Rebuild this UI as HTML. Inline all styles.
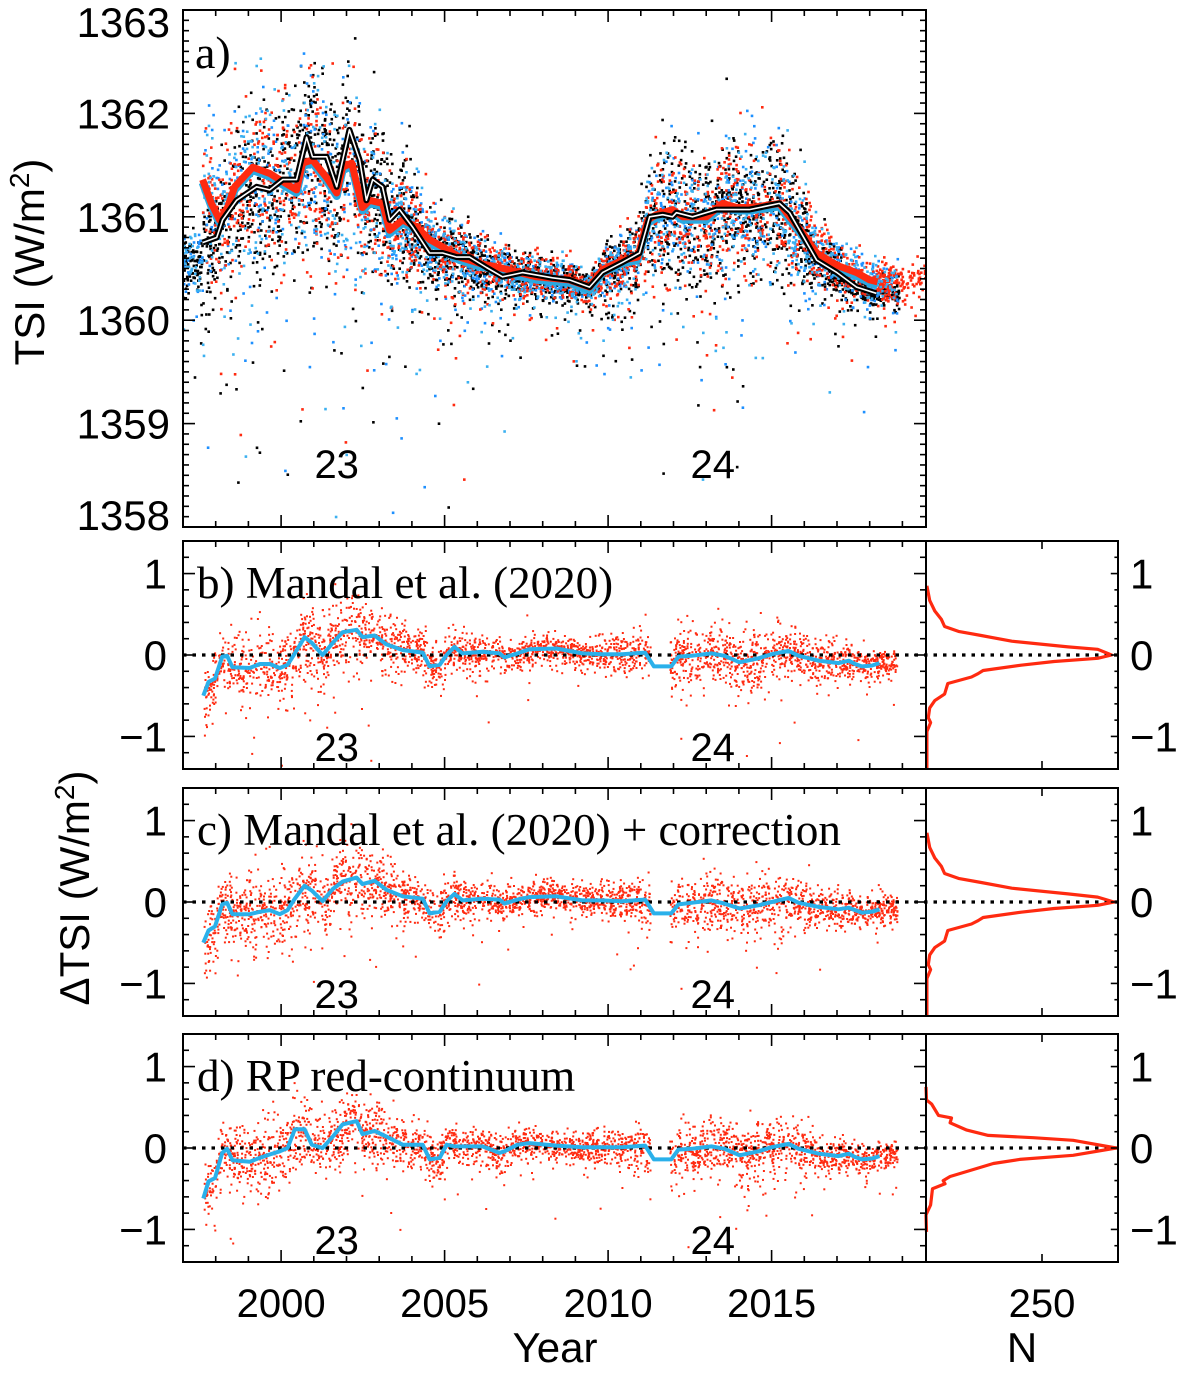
<!DOCTYPE html>
<html><head><meta charset="utf-8"><style>
html,body{margin:0;padding:0;background:#fff;}
svg{display:block;}
text{font-family:"Liberation Sans",sans-serif;fill:#000;}
.serif{font-family:"Liberation Serif",serif;}
</style></head>
<body>
<svg id="fig" width="1200" height="1378" viewBox="0 0 1200 1378" xmlns="http://www.w3.org/2000/svg">
  <g id="layer-scatter"></g>
  <g id="layer-lines"></g>
  <g id="layer-axes"></g>
  <text transform="translate(44,262) rotate(-90)" text-anchor="middle" font-size="42">TSI (W/m<tspan dy="-15" font-size="28">2</tspan><tspan dy="15">)</tspan></text>
  <text transform="translate(89,888) rotate(-90)" text-anchor="middle" font-size="42">ΔTSI (W/m<tspan dy="-15" font-size="28">2</tspan><tspan dy="15">)</tspan></text>
  <text x="555" y="1362" text-anchor="middle" font-size="42">Year</text>
  <text x="1022" y="1362" text-anchor="middle" font-size="42">N</text>
</svg>
<script>
// ---------- Panel a data ----------
const obsYears = [1997.60,1997.87,1998.12,1998.36,1998.58,1999.13,1999.65,1999.95,2000.47,2000.66,2000.96,2001.39,2001.70,2001.88,2002.16,2002.49,2002.71,2003.10,2003.32,2003.72,2004.14,2004.54,2004.94,2005.46,2006.07,2006.68,2007.29,2007.81,2008.82,2009.43,2009.83,2010.44,2010.90,2011.21,2011.48,2011.97,2012.28,2012.58,2013.01,2013.50,2013.93,2014.32,2014.85,2015.24,2015.55,2015.96,2016.38,2017.00,2017.60,2018.00,2018.24];
const obsTSI = [1361.36,1361.13,1360.97,1361.09,1361.29,1361.48,1361.42,1361.36,1361.26,1361.52,1361.55,1361.38,1361.23,1361.48,1361.52,1361.09,1361.16,1361.13,1360.87,1360.97,1360.90,1360.78,1360.71,1360.61,1360.55,1360.51,1360.46,1360.42,1360.39,1360.32,1360.49,1360.58,1360.61,1360.97,1361.02,1361.07,1361.00,1361.00,1361.00,1361.13,1361.09,1361.09,1361.11,1361.13,1361.00,1360.84,1360.65,1360.53,1360.46,1360.39,1360.37];
const modelYears = [1997.60,1998.03,1998.21,1998.64,1999.25,1999.65,2000.05,2000.47,2000.78,2000.96,2001.39,2001.70,2002.09,2002.40,2002.61,2002.80,2003.10,2003.32,2003.62,2004.02,2004.54,2004.94,2005.37,2005.76,2006.28,2006.77,2007.38,2008.30,2008.82,2009.43,2009.83,2010.44,2010.96,2011.27,2011.67,2011.97,2012.09,2012.58,2013.31,2014.32,2015.24,2015.55,2016.38,2017.00,2017.60,2018.20];
const modelTSI = [1360.75,1360.80,1360.97,1361.16,1361.29,1361.26,1361.36,1361.36,1361.77,1361.58,1361.58,1361.29,1361.84,1361.55,1361.16,1361.36,1361.29,1360.97,1361.07,1360.90,1360.65,1360.65,1360.61,1360.61,1360.51,1360.42,1360.46,1360.41,1360.39,1360.32,1360.46,1360.56,1360.65,1361.00,1361.02,1361.00,1361.04,1361.00,1361.07,1361.07,1361.13,1361.04,1360.58,1360.46,1360.32,1360.26];
const tsiTicks = [1358,1359,1360,1361,1362,1363];
const yearTicks = [2000,2005,2010,2015];

// ---------- Delta panels (b,c,d) running-mean data ----------
const runYearsB = [1997.62,1997.78,1997.98,1998.20,1998.35,1998.51,1999.04,1999.35,1999.65,1999.96,2000.20,2000.42,2000.72,2000.94,2001.27,2001.58,2001.88,2002.31,2002.49,2002.86,2003.22,2003.72,2004.33,2004.54,2004.85,2005.06,2005.30,2005.55,2006.16,2006.68,2006.83,2007.23,2007.59,2008.42,2009.21,2009.82,2010.43,2011.13,2011.40,2011.93,2012.15,2012.55,2013.16,2013.56,2014.02,2014.60,2015.00,2015.52,2015.83,2016.44,2017.05,2017.36,2017.55,2017.76,2018.06,2018.30];
const runB = [-0.50,-0.33,-0.29,-0.02,-0.01,-0.15,-0.16,-0.11,-0.11,-0.16,-0.12,0.02,0.22,0.15,0.00,0.15,0.28,0.31,0.22,0.24,0.13,0.06,0.03,-0.14,-0.12,0.00,0.10,0.02,0.04,0.02,-0.03,0.02,0.07,0.08,0.02,0.01,0.01,0.03,-0.14,-0.14,-0.02,-0.01,0.02,-0.01,-0.09,-0.04,0.01,0.05,-0.01,-0.07,-0.10,-0.07,-0.11,-0.14,-0.13,-0.10];
const runC = [-0.50,-0.35,-0.30,-0.03,-0.01,-0.15,-0.15,-0.12,-0.10,-0.15,-0.10,0.04,0.20,0.14,0.01,0.16,0.25,0.30,0.22,0.26,0.15,0.07,0.04,-0.14,-0.12,0.01,0.10,0.02,0.04,0.03,-0.02,0.03,0.06,0.07,0.02,0.02,0.01,0.03,-0.14,-0.14,-0.03,-0.01,0.02,-0.02,-0.08,-0.04,0.00,0.05,-0.01,-0.06,-0.09,-0.07,-0.10,-0.13,-0.12,-0.09];
const runD = [-0.62,-0.41,-0.37,-0.06,-0.01,-0.15,-0.17,-0.12,-0.08,-0.04,0.00,0.23,0.23,0.04,0.00,0.14,0.29,0.33,0.17,0.21,0.14,0.04,0.04,-0.14,-0.12,0.04,0.02,0.02,0.02,-0.06,-0.04,0.04,0.06,0.03,0.01,0.01,0.01,0.03,-0.14,-0.14,-0.02,-0.01,0.02,-0.01,-0.09,-0.04,0.01,0.05,-0.01,-0.07,-0.10,-0.07,-0.11,-0.14,-0.13,-0.10];
const deltaTicks = [-1,0,1];

// ---------- Histograms ----------
const histValsB = [0.85,0.67,0.54,0.44,0.35,0.29,0.24,0.17,0.10,0.07,0.00,-0.04,-0.08,-0.125,-0.19,-0.23,-0.27,-0.35,-0.48,-0.56,-0.65,-0.77,-0.83,-0.94,-1.40];
const histNB =    [2,8,19,33,40,70,119,185,306,370,400,370,276,205,123,112,98,47,40,19,8,5,10,2,2];
const histValsC = [0.85,0.67,0.54,0.44,0.35,0.29,0.24,0.17,0.10,0.06,0.00,-0.04,-0.08,-0.125,-0.19,-0.23,-0.27,-0.35,-0.48,-0.56,-0.65,-0.77,-0.83,-0.94,-1.40];
const histNC =    [2,8,19,33,40,70,119,185,306,370,405,370,276,205,123,112,98,47,40,19,8,5,10,2,2];
const histValsD = [0.75,0.59,0.54,0.40,0.37,0.31,0.22,0.155,0.127,0.094,0.00,-0.09,-0.14,-0.19,-0.35,-0.40,-0.44,-0.50,-0.70,-0.82,-1.03];
const histND =    [0,1,12,27,55,52,88,134,231,317,410,317,202,145,52,37,41,14,10,0,1];
const histTicks = [250];

// ---------- geometry ----------
const X0 = 183, X1 = 926, YR0 = 1997, PXY = 32.7;
const H0 = 926, H1 = 1118, HPX = 116/250;
const xYear = y => X0 + (y - YR0) * PXY;
const xN = n => H0 + n * HPX;
const PA = {top:10, bot:527, min:1358, max:1363};
const deltaPanels = [
  {key:'b', top:541, label:'b) Mandal et al. (2020)', run:runB, hv:histValsB, hn:histNB},
  {key:'c', top:788, label:'c) Mandal et al. (2020) + correction', run:runC, hv:histValsC, hn:histNC},
  {key:'d', top:1034, label:'d) RP red-continuum', run:runD, hv:histValsD, hn:histND}
];
const DMIN = -1.4, DMAX = 1.4, DH = 228;
const yA = v => PA.bot - (v - PA.min) / (PA.max - PA.min) * (PA.bot - PA.top);
const yD = (p, v) => p.top + (DMAX - v) / (DMAX - DMIN) * DH;

const NS = 'http://www.w3.org/2000/svg';
const gS = document.getElementById('layer-scatter');
const gL = document.getElementById('layer-lines');
const gA = document.getElementById('layer-axes');
function mk(tag, attrs, parent) {
  const e = document.createElementNS(NS, tag);
  for (const k in attrs) e.setAttribute(k, attrs[k]);
  parent.appendChild(e);
  return e;
}
function interp(xs, ys, x) {
  if (x <= xs[0]) return ys[0];
  for (let i = 1; i < xs.length; i++) if (x <= xs[i]) {
    const t = (x - xs[i-1]) / (xs[i] - xs[i-1]); return ys[i-1] + t * (ys[i] - ys[i-1]);
  }
  return ys[ys.length - 1];
}
// deterministic texture generator for dense scatter clouds
let seed = 12345;
function rnd() { seed |= 0; seed = seed + 0x6D2B79F5 | 0; let t = Math.imul(seed ^ seed >>> 15, 1 | seed); t = t + Math.imul(t ^ t >>> 7, 61 | t) ^ t; return ((t ^ t >>> 14) >>> 0) / 4294967296; }
function gauss() { return Math.sqrt(-2 * Math.log(rnd() + 1e-9)) * Math.cos(2 * Math.PI * rnd()); }

// ---------- Panel a scatter ----------
function actA(v) { return Math.max(0, (v - 1360.3) / 0.9); }
const colsA = [['#000000', 2900, 'model-dots'], ['#1e90ff', 1200, 'blue-dots'], ['#ff2a10', 1900, 'red-dots'], ['#3bb0f0', 1200, 'cyan-dots']];
colsA.forEach(([col, n, nm]) => {
  const g = mk('g', {fill: col}, gS);
  
  
  for (let i = 0; i < n; i++) {
    let yr = 1997.6 + rnd() * 21.3;
    if (col === '#ff2a10' && rnd() < 0.06) yr = 2018.3 + rnd() * 1.4;
    let base = interp(col === '#000000' ? modelYears : obsYears, col === '#000000' ? modelTSI : obsTSI, yr);
    if (yr < 1997.6 || rnd() < 0.03 && col !== '#ff2a10') { yr = 1997 + rnd() * 0.6; base = 1360.55; }
    const a = actA(base);
    let v = base + gauss() * (0.07 + 0.28 * a);
    if (rnd() < 0.12) v -= -Math.log(rnd() + 1e-6) * (0.15 + 0.55 * a);
    if (v < 1358 || v > 1363) continue;
    mk('rect', {x: (xYear(yr) - 1).toFixed(1), y: (yA(v) - 1).toFixed(1), width: 2.6, height: 2.6}, g);
  }
});
// ---------- Panel a lines ----------
function pathFrom(xsArr, ysArr, fx, fy) {
  return xsArr.map((x, i) => (i ? 'L' : 'M') + fx(x).toFixed(1) + ',' + fy(ysArr[i]).toFixed(1)).join('');
}
const cyanBand = mk('path', {d: pathFrom(obsYears, obsTSI, xYear, v => yA(v) + 3), fill: 'none', stroke: '#2aa8e0', 'stroke-width': 8, 'stroke-linejoin': 'round'}, gL);


const redBand = mk('path', {d: pathFrom(obsYears, obsTSI, xYear, yA), fill: 'none', stroke: '#ff2a10', 'stroke-width': 7, 'stroke-linejoin': 'round'}, gL);


const blackLine = mk('path', {d: pathFrom(modelYears, modelTSI, xYear, yA), fill: 'none', stroke: '#000', 'stroke-width': 6, 'stroke-linejoin': 'round'}, gL);


const whiteCore = mk('path', {d: pathFrom(modelYears, modelTSI, xYear, yA), fill: 'none', stroke: '#fff', 'stroke-width': 1.6, 'stroke-linejoin': 'round'}, gL);



// ---------- Delta panels ----------
function actD(yr) { return Math.max(0, (interp(obsYears, obsTSI, yr) - 1360.3) / 1.2); }
deltaPanels.forEach(p => {
  const g = mk('g', {fill: '#ff2a10'}, gS);
  
  
  for (let i = 0; i < 3000; i++) {
    const yr = 1997.65 + rnd() * 21.2;
    if (yr > 2011.3 && yr < 2011.9) continue;
    const base = interp(runYearsB, p.run, yr);
    const a = actD(yr);
    let v = base + gauss() * (0.08 + 0.16 * a);
    if (rnd() < 0.08) v -= -Math.log(rnd() + 1e-6) * (0.12 + 0.25 * a);
    if (yr < 1998 && rnd() < 0.3) v -= 0.3 * rnd();
    if (v < DMIN || v > DMAX) continue;
    mk('rect', {x: (xYear(yr) - 0.9).toFixed(1), y: (yD(p, v) - 0.9).toFixed(1), width: 2, height: 2}, g);
  }
  const zl = mk('line', {x1: X0, x2: H1, y1: yD(p, 0), y2: yD(p, 0), stroke: '#000', 'stroke-width': 3.2, 'stroke-dasharray': '3.5 6'}, gL);
  
  
  const rl = mk('path', {d: pathFrom(runYearsB, p.run, xYear, v => yD(p, v)), fill: 'none', stroke: '#2ab0ea', 'stroke-width': 4, 'stroke-linejoin': 'round'}, gL);
  
  
  const hl = mk('path', {d: p.hv.map((v, i) => (i ? 'L' : 'M') + xN(p.hn[i]).toFixed(1) + ',' + yD(p, v).toFixed(1)).join(''), fill: 'none', stroke: '#ff2a10', 'stroke-width': 3.2, 'stroke-linejoin': 'round'}, gL);
  
  
});

// ---------- Axes ----------
function tick(x1, y1, x2, y2) { mk('line', {x1, y1, x2, y2, stroke: '#000', 'stroke-width': 1.6}, gA); }
function frame(x, y, w, h, name) {
  const r = mk('rect', {x, y, width: w, height: h, fill: 'none', stroke: '#000', 'stroke-width': 2}, gA);
  
  
}
function xTicks(top, bot) {
  for (let yr = 1998; yr <= 2019; yr++) {
    const x = xYear(yr), L = yr % 5 === 0 ? 12 : 6;
    tick(x, bot, x, bot - L); tick(x, top, x, top + L);
  }
}
// panel a
frame(X0, PA.top, X1 - X0, PA.bot - PA.top, 'panel-a-frame');
xTicks(PA.top, PA.bot);
for (let k = 0; k <= 50; k++) {
  const v = PA.min + k * 0.1, y = yA(v), L = k % 10 === 0 ? 12 : 6;
  tick(X0, y, X0 + L, y); tick(X1, y, X1 - L, y);
}
tsiTicks.forEach(t => {
  let y = yA(t) + 15;
  if (t === PA.max) y += 12; if (t === PA.min) y -= 12;
  const tx = mk('text', {x: 170, y, 'text-anchor': 'end', 'font-size': 42}, gA);
  tx.textContent = t;
  
  
});
const la = mk('text', {x: 195, y: 68, 'font-size': 46, class: 'serif'}, gA);
la.textContent = 'a)';


[['23', 2001.7, 478], ['24', 2013.2, 478]].forEach(([s, yr, yy]) => {
  const t = mk('text', {x: xYear(yr), y: yy, 'text-anchor': 'middle', 'font-size': 40}, gA);
  t.textContent = s;
  
  
});
// delta panels
deltaPanels.forEach(p => {
  const bot = p.top + DH;
  frame(X0, p.top, X1 - X0, DH, 'panel-' + p.key + '-frame');
  frame(H0, p.top, H1 - H0, DH, 'panel-' + p.key + '-hist-frame');
  xTicks(p.top, bot);
  histTicks.forEach(n => { tick(xN(n), bot, xN(n), bot - 8); tick(xN(n), p.top, xN(n), p.top + 8); });
  for (let k = -7; k <= 7; k++) {
    const v = k * 0.2; const y = yD(p, v); const L = (k % 5 === 0) ? 12 : 6;
    tick(X0, y, X0 + L, y); tick(X1, y, X1 - L, y); tick(H1, y, H1 - L * 0.6, y);
  }
  deltaTicks.forEach(t => {
    const s = t < 0 ? '\u2212' + (-t) : String(t);
    const a = mk('text', {x: 167, y: yD(p, t) + 15, 'text-anchor': 'end', 'font-size': 42}, gA);
    a.textContent = s;
    
    
    const b = mk('text', {x: 1130, y: yD(p, t) + 15, 'text-anchor': 'start', 'font-size': 42}, gA);
    b.textContent = s;
    
    
  });
  const lt = mk('text', {x: 197, y: p.top + 57, 'font-size': 45, class: 'serif'}, gA);
  lt.textContent = p.label;
  
  
  [['23', 2001.7], ['24', 2013.2]].forEach(([s, yr]) => {
    const t = mk('text', {x: xYear(yr), y: bot - 8, 'text-anchor': 'middle', 'font-size': 40}, gA);
    t.textContent = s;
    
    
  });
});
yearTicks.forEach(yr => {
  const t = mk('text', {x: xYear(yr), y: 1317, 'text-anchor': 'middle', 'font-size': 40}, gA);
  t.textContent = yr;
  
  
});
histTicks.forEach(n => {
  const t = mk('text', {x: xN(n), y: 1317, 'text-anchor': 'middle', 'font-size': 40}, gA);
  t.textContent = n;
  
  
});
</script>
</body></html>
